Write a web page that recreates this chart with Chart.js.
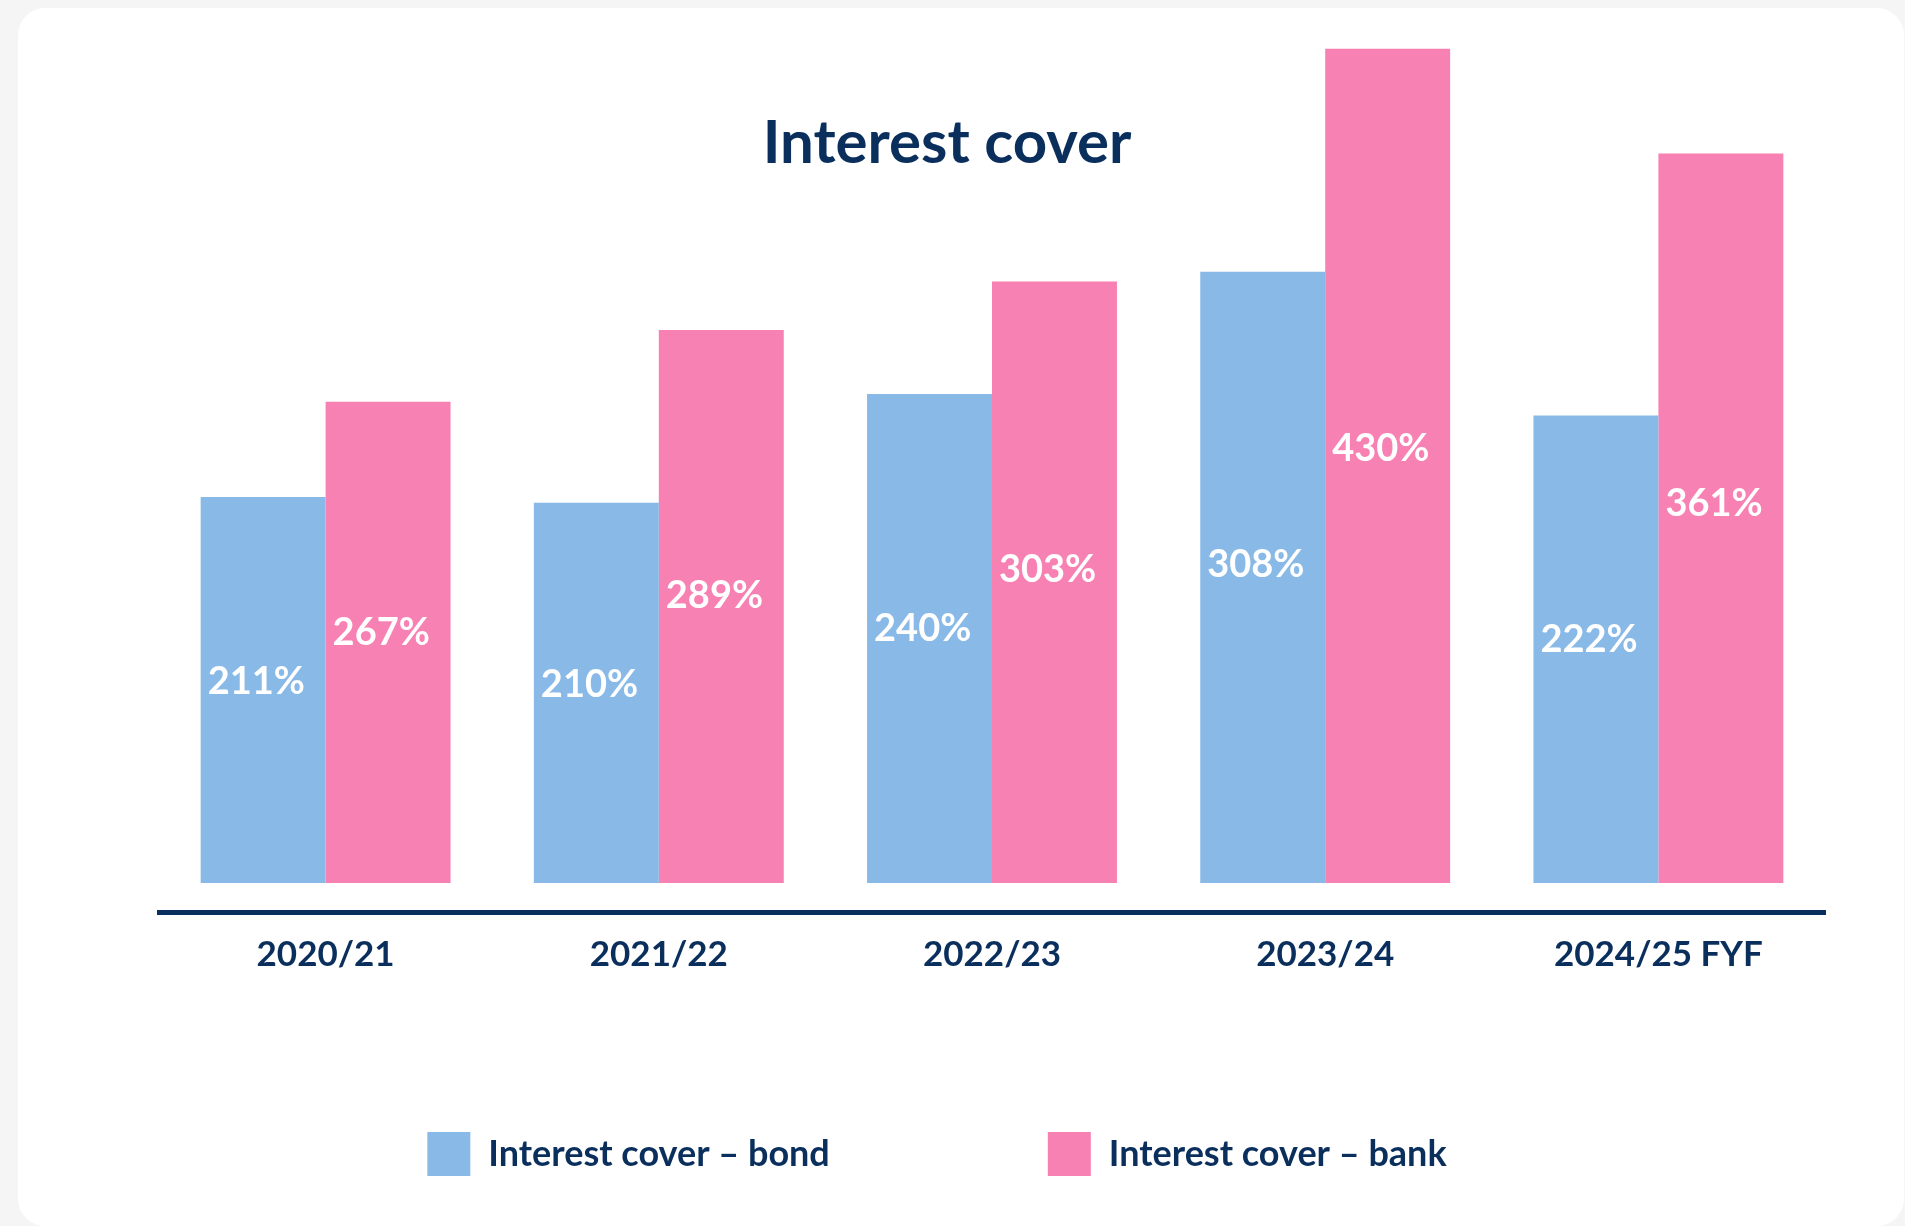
<!DOCTYPE html>
<html>
<head>
<meta charset="utf-8">
<title>Interest cover</title>
<script src="https://cdn.jsdelivr.net/npm/chart.js@4/dist/chart.umd.min.js"></script>
<style>
  html, body { margin: 0; padding: 0; }
  body { width: 1905px; height: 1226px; background: #f5f5f5; overflow: hidden; position: relative; font-family: Lato, "Noto Sans", sans-serif; }
  .card { position: absolute; left: 18px; top: 8px; right: 1px; bottom: 0; background: #fff; border-radius: 27px; }
  h1 { position: absolute; left: 0; width: 1894px; top: 110px; margin: 0; text-align: center; font: bold 60px/60px Lato, sans-serif; color: #0b2f5c; z-index: 2; }
  #chart { position: absolute; left: 0; top: 0; z-index: 1; }
</style>
</head>
<body>
<div class="card"></div>
<h1>Interest cover</h1>
<canvas id="chart" width="1905" height="1226"></canvas>
<script>
const years = ["2020/21", "2021/22", "2022/23", "2023/24", "2024/25 FYF"];

// printed values (%)
const bondCover = [211, 210, 240, 308, 222];
const bankCover = [267, 289, 303, 430, 361];

// bar heights as drawn in the source (they don't scale exactly with the printed values)
const bondBars = [199, 196, 252, 315, 241];
const bankBars = [248, 285, 310, 430, 376];

const navy = "#0b2f5c";
const blue = "#88b9e7";
const pink = "#f781b2";

const valueLabels = {
    id: "valueLabels",
    afterDatasetsDraw(chart) {
        const ctx = chart.ctx;
        const printed = [bondCover, bankCover];
        ctx.save();
        ctx.font = "bold 38px Lato";
        ctx.fillStyle = "#ffffff";
        ctx.textAlign = "left";
        ctx.textBaseline = "middle";
        chart.data.datasets.forEach((ds, d) => {
            chart.getDatasetMeta(d).data.forEach((bar, i) => {
                const y = bar.base - 0.52 * (bar.base - bar.y);
                ctx.fillText(printed[d][i] + "%", bar.x - bar.width / 2 + 7, y);
            });
        });
        ctx.restore();
    }
};

function draw() {
    new Chart(document.getElementById("chart"), {
        type: "bar",
        data: {
            labels: years,
            datasets: [
                { label: "Interest cover \u2013 bond", data: bondBars, backgroundColor: blue, borderWidth: 0 },
                { label: "Interest cover \u2013 bank", data: bankBars, backgroundColor: pink, borderWidth: 0 }
            ]
        },
        options: {
            responsive: false,
            animation: false,
            layout: { padding: { left: 49, right: 80, top: 10, bottom: 40 } },
            datasets: { bar: { categoryPercentage: 0.75, barPercentage: 1 } },
            scales: {
                x: {
                    grid: { display: false, drawTicks: false },
                    border: { display: true, color: navy, width: 5 },
                    // mirror keeps the labels from being clipped to the thin axis box
                    // (a mirrored bottom axis counts padding upwards, hence negative)
                    ticks: { color: navy, font: { family: "Lato", size: 35, weight: "bold" }, mirror: true, padding: -64, maxRotation: 0, autoSkip: false },
                    afterFit(scale) { scale.height = 2; }
                },
                y: {
                    min: -15,
                    max: 450,
                    grid: { display: false, drawTicks: false },
                    border: { display: false },
                    ticks: { display: false },
                    afterFit(scale) { scale.width = 110; }
                }
            },
            plugins: {
                legend: {
                    position: "bottom",
                    labels: {
                        boxWidth: 43,
                        boxHeight: 44,
                        padding: 218,
                        color: navy,
                        font: { family: "Lato", size: 36, weight: "bold" }
                    }
                },
                tooltip: { enabled: false },
                title: { display: false }
            }
        },
        plugins: [valueLabels]
    });
}

if (document.fonts && document.fonts.load) {
    Promise.all([
        document.fonts.load("bold 35px Lato"),
        document.fonts.load("bold 60px Lato")
    ]).then(draw, draw);
} else {
    draw();
}
</script>
</body>
</html>
